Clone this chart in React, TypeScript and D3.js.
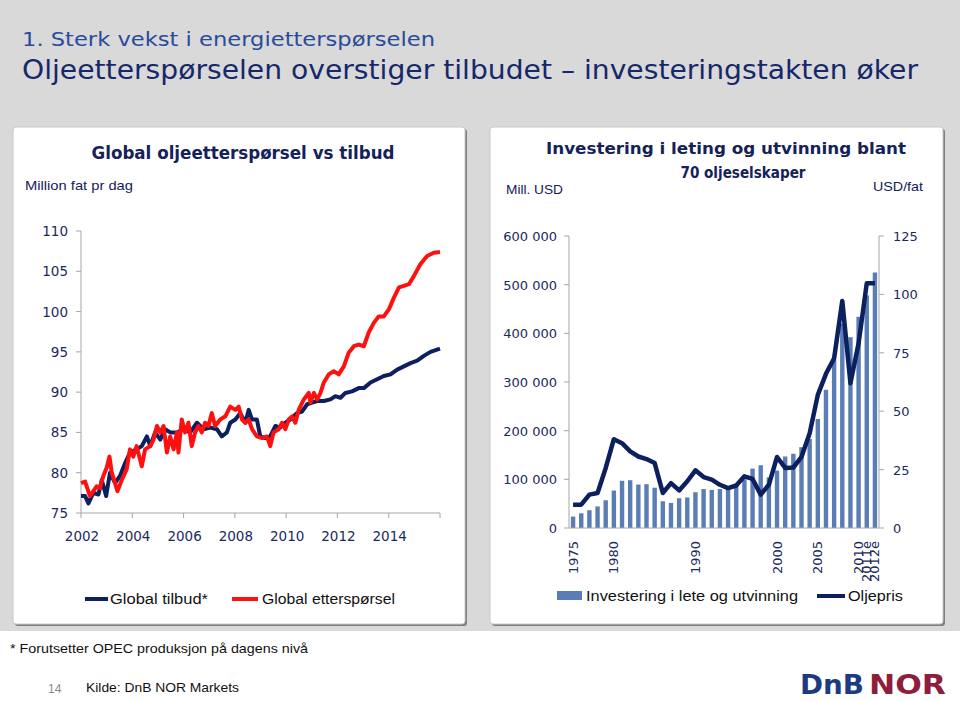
import React from 'react';
import * as d3 from 'd3';

// ---------- Left chart data (million barrels/day) ----------
const supplyYears = [2002.00, 2002.16, 2002.29, 2002.48, 2002.68, 2002.81, 2002.98, 2003.13, 2003.33, 2003.52, 2003.72, 2003.91, 2004.17, 2004.37, 2004.57, 2004.70, 2004.89, 2005.09, 2005.28, 2005.48, 2005.74, 2006.00, 2006.26, 2006.52, 2006.78, 2007.04, 2007.30, 2007.49, 2007.69, 2007.82, 2008.02, 2008.21, 2008.41, 2008.54, 2008.67, 2008.86, 2008.99, 2009.19, 2009.38, 2009.58, 2009.77, 2009.97, 2010.16, 2010.42, 2010.62, 2010.82, 2011.01, 2011.21, 2011.47, 2011.73, 2011.92, 2012.12, 2012.31, 2012.57, 2012.83, 2013.03, 2013.29, 2013.55, 2013.81, 2014.07, 2014.33, 2014.59, 2014.85, 2015.11, 2015.37, 2015.63, 2016.00];
const supplyValues = [77.1, 77.1, 76.2, 77.5, 77.3, 79.1, 77.1, 80.0, 78.7, 79.6, 81.2, 82.5, 82.9, 83.3, 84.5, 83.3, 85.0, 84.1, 85.4, 85.0, 85.0, 85.4, 85.0, 86.2, 85.4, 85.6, 85.4, 84.5, 85.0, 86.2, 86.6, 87.4, 86.2, 87.8, 86.6, 86.6, 84.5, 84.3, 84.5, 85.8, 85.6, 86.2, 86.6, 87.4, 87.6, 88.5, 88.7, 88.9, 88.9, 89.1, 89.5, 89.3, 89.9, 90.1, 90.5, 90.5, 91.2, 91.6, 92.0, 92.2, 92.8, 93.2, 93.6, 93.9, 94.5, 95.0, 95.4];
const demandYears = [2002.00, 2002.16, 2002.35, 2002.48, 2002.61, 2002.74, 2002.87, 2003.00, 2003.11, 2003.20, 2003.33, 2003.42, 2003.59, 2003.78, 2003.91, 2004.04, 2004.17, 2004.37, 2004.50, 2004.70, 2004.83, 2004.96, 2005.09, 2005.22, 2005.35, 2005.48, 2005.61, 2005.74, 2005.80, 2005.93, 2006.06, 2006.19, 2006.32, 2006.45, 2006.58, 2006.71, 2006.84, 2006.97, 2007.10, 2007.23, 2007.43, 2007.63, 2007.82, 2008.02, 2008.15, 2008.28, 2008.41, 2008.54, 2008.67, 2008.86, 2009.06, 2009.25, 2009.38, 2009.51, 2009.71, 2009.84, 2009.97, 2010.10, 2010.23, 2010.36, 2010.49, 2010.69, 2010.88, 2010.95, 2011.08, 2011.21, 2011.34, 2011.47, 2011.66, 2011.86, 2012.05, 2012.25, 2012.44, 2012.64, 2012.83, 2013.03, 2013.22, 2013.42, 2013.61, 2013.81, 2014.01, 2014.20, 2014.40, 2014.59, 2014.79, 2014.98, 2015.24, 2015.50, 2015.76, 2016.00];
const demandValues = [78.7, 78.9, 77.1, 77.7, 78.3, 78.1, 79.6, 80.6, 82.0, 80.0, 78.7, 77.7, 79.1, 80.4, 82.9, 82.0, 83.3, 80.8, 82.9, 83.3, 84.1, 85.8, 85.0, 85.8, 82.5, 84.5, 82.9, 85.0, 82.5, 86.6, 85.0, 86.2, 83.3, 85.0, 85.8, 85.0, 86.2, 85.8, 87.4, 85.8, 86.6, 87.0, 88.2, 87.8, 88.2, 86.6, 86.2, 86.6, 85.4, 84.5, 84.3, 84.5, 83.3, 85.0, 85.4, 86.2, 85.4, 86.6, 87.0, 86.2, 87.8, 89.1, 89.9, 88.7, 89.9, 89.1, 89.9, 91.2, 92.2, 92.6, 92.2, 93.2, 94.9, 95.7, 95.9, 95.7, 97.4, 98.6, 99.4, 99.4, 100.3, 101.7, 103.0, 103.2, 103.4, 104.4, 105.9, 106.9, 107.3, 107.4];
const leftYTicks = [75, 80, 85, 90, 95, 100, 105, 110];
const leftXTicks = [2002, 2004, 2006, 2008, 2010, 2012, 2014, 2016];
const leftXLabels = ['2002', '2004', '2006', '2008', '2010', '2012', '2014'];

// ---------- Right chart data ----------
const invYears = ['1975', '1976', '1977', '1978', '1979', '1980', '1981', '1982', '1983', '1984', '1985', '1986', '1987', '1988', '1989', '1990', '1991', '1992', '1993', '1994', '1995', '1996', '1997', '1998', '1999', '2000', '2001', '2002', '2003', '2004', '2005', '2006', '2007', '2008', '2009', '2010', '2011e', '2012e'];
const investment = [23400, 30200, 36500, 44300, 57000, 77000, 97000, 98200, 89300, 90000, 82800, 55000, 51500, 61200, 62800, 73500, 80000, 78300, 80000, 82000, 88000, 100000, 122000, 129000, 104000, 118000, 147000, 152500, 166000, 183000, 224000, 284000, 346000, 420000, 392000, 434000, 478000, 525000];
const oilPrice = [10, 10, 14.3, 15, 25.7, 38, 36.3, 32.8, 30.6, 29.5, 27.8, 15, 19.2, 16.1, 20, 24.7, 21.8, 20.7, 18.5, 17.1, 18.2, 22.1, 21, 14.3, 18.5, 30.4, 25.7, 25.9, 30.4, 40.6, 57, 66, 72.7, 97.2, 62, 79.1, 104.8, 104.8];
const invXLabels = ['1975', '1980', '1990', '2000', '2005', '2010', '2011e', '2012e'];
const invYTicks = [0, 100000, 200000, 300000, 400000, 500000, 600000];
const priceTicks = [0, 25, 50, 75, 100, 125];

const NAVY = '#0c1f5e';
const RED = '#ff1010';
const BAR = '#5b7db5';
const AXIS = '#a6a6a6';
const LABEL = '#1b2a5e';
const FONT = 'DejaVu Sans, Verdana, sans-serif';
const NARROW = 'Liberation Sans, Arial, sans-serif';

const fmtSpace = (v: number) => (v === 0 ? '0' : d3.format(',')(v).replace(/,/g, ' '));

function Panel({ x, y, w, h }: { x: number; y: number; w: number; h: number }) {
  return (
    <g>
      <rect x={x + 2} y={y + 2} width={w} height={h} rx={3} fill="#7f7f7f" />
      <rect x={x} y={y} width={w} height={h} rx={3} fill="#ffffff" stroke="#c8c8c8" strokeWidth={1} />
    </g>
  );
}

export default function App() {
  // Left chart scales
  const lx = d3.scaleLinear().domain([2002, 2016]).range([81, 440]);
  const ly = d3.scaleLinear().domain([75, 110]).range([513, 231]);
  const supplyLine = d3.line<number>().x((_, i) => lx(supplyYears[i])).y((d) => ly(d))(supplyValues) || '';
  const demandLine = d3.line<number>().x((_, i) => lx(demandYears[i])).y((d) => ly(d))(demandValues) || '';

  // Right chart scales
  const bx = d3.scaleBand<string>().domain(invYears).range([569, 879]).paddingInner(0.46).paddingOuter(0.23);
  const by = d3.scaleLinear().domain([0, 600000]).range([528, 236]);
  const py = d3.scaleLinear().domain([0, 125]).range([528, 236]);
  const bc = (k: string) => (bx(k) || 0) + bx.bandwidth() / 2;
  const priceLine = d3.line<number>().x((_, i) => bc(invYears[i])).y((d) => py(d))(oilPrice) || '';

  return (
    <div style={{ position: 'absolute', left: 0, top: 0 }}>
      <svg width={960} height={701} style={{ display: 'block' }}>
        <rect x={0} y={0} width={960} height={701} fill="#ffffff" />
        <rect x={0} y={0} width={960} height={631} fill="#d9d9d9" />

        {/* Titles */}
        <text x={22} y={46} fontFamily={FONT} fontSize={20} fill="#2a4b9b" textLength={413} lengthAdjust="spacingAndGlyphs">1. Sterk vekst i energietterspørselen</text>
        <text x={22} y={79} fontFamily={FONT} fontSize={26} fill="#16276a" textLength={896} lengthAdjust="spacingAndGlyphs">Oljeetterspørselen overstiger tilbudet – investeringstakten øker</text>

        <Panel x={13} y={127} w={452} h={497} />
        <Panel x={490} y={127} w={453} h={497} />

        {/* Left panel headings */}
        <text x={243} y={159} textAnchor="middle" fontFamily={FONT} fontWeight="bold" fontSize={17} fill="#14215a" textLength={303} lengthAdjust="spacingAndGlyphs">Global oljeetterspørsel vs tilbud</text>
        <text x={25} y={190} fontFamily={NARROW} fontSize={13} fill="#14215a" textLength={108} lengthAdjust="spacingAndGlyphs">Million fat pr dag</text>

        {/* Left chart axes */}
        <line x1={81} x2={81} y1={231} y2={513} stroke={AXIS} />
        <line x1={81} x2={440} y1={513} y2={513} stroke={AXIS} />
        {leftYTicks.map((t) => (
          <g key={'ly' + t}>
            <line x1={76} x2={81} y1={ly(t)} y2={ly(t)} stroke={AXIS} />
            <text x={68} y={ly(t) + 5} textAnchor="end" fontFamily={FONT} fontSize={13.5} fill={LABEL}>{t}</text>
          </g>
        ))}
        {leftXTicks.map((t) => (
          <line key={'lxt' + t} x1={lx(t)} x2={lx(t)} y1={513} y2={518} stroke={AXIS} />
        ))}
        {leftXLabels.map((t) => (
          <text key={'lxl' + t} x={lx(+t) + 1} y={541} textAnchor="middle" fontFamily={FONT} fontSize={13.5} fill={LABEL}>{t}</text>
        ))}
        <path d={supplyLine} fill="none" stroke={NAVY} strokeWidth={4} strokeLinejoin="round" />
        <path d={demandLine} fill="none" stroke={RED} strokeWidth={4} strokeLinejoin="round" />

        {/* Left legend */}
        <line x1={85} x2={108} y1={599} y2={599} stroke={NAVY} strokeWidth={4} />
        <text x={110} y={604} fontFamily={NARROW} fontSize={14} fill="#111" textLength={98} lengthAdjust="spacingAndGlyphs">Global tilbud*</text>
        <line x1={232} x2={258} y1={599} y2={599} stroke={RED} strokeWidth={4} />
        <text x={262} y={604} fontFamily={NARROW} fontSize={14} fill="#111" textLength={133} lengthAdjust="spacingAndGlyphs">Global etterspørsel</text>

        {/* Right panel headings */}
        <text x={726} y={154} textAnchor="middle" fontFamily={FONT} fontWeight="bold" fontSize={16.5} fill="#14215a" textLength={360} lengthAdjust="spacingAndGlyphs">Investering i leting og utvinning blant</text>
        <text x={743} y={178} textAnchor="middle" fontFamily={FONT} fontWeight="bold" fontSize={16.5} fill="#14215a" textLength={125} lengthAdjust="spacingAndGlyphs">70 oljeselskaper</text>
        <text x={506} y={194} fontFamily={NARROW} fontSize={13} fill="#14215a" textLength={57} lengthAdjust="spacingAndGlyphs">Mill. USD</text>
        <text x={923} y={191} textAnchor="end" fontFamily={NARROW} fontSize={13} fill="#14215a" textLength={50} lengthAdjust="spacingAndGlyphs">USD/fat</text>

        {/* Right chart bars */}
        {invYears.map((k, i) => (
          <rect key={'b' + k} x={bx(k)} y={by(investment[i])} width={bx.bandwidth()} height={528 - by(investment[i])} fill={BAR} />
        ))}
        {/* Right chart axes */}
        <line x1={569} x2={569} y1={236} y2={528} stroke={AXIS} />
        <line x1={879} x2={879} y1={236} y2={528} stroke={AXIS} />
        <line x1={569} x2={879} y1={528} y2={528} stroke={AXIS} />
        {invYTicks.map((t) => (
          <g key={'iy' + t}>
            <line x1={564} x2={569} y1={by(t)} y2={by(t)} stroke={AXIS} />
            <text x={557} y={by(t) + 5} textAnchor="end" fontFamily={FONT} fontSize={13} fill={LABEL}>{fmtSpace(t)}</text>
          </g>
        ))}
        {priceTicks.map((t) => (
          <g key={'py' + t}>
            <line x1={879} x2={884} y1={py(t)} y2={py(t)} stroke={AXIS} />
            <text x={893} y={py(t) + 5} textAnchor="start" fontFamily={FONT} fontSize={13} fill={LABEL}>{t}</text>
          </g>
        ))}
        {invXLabels.map((k) => (
          <text key={'ix' + k} transform={`translate(${bc(k) + 4.5},541) rotate(-90)`} textAnchor="end" fontFamily={FONT} fontSize={13} fill={LABEL}>{k}</text>
        ))}
        <path d={priceLine} fill="none" stroke={NAVY} strokeWidth={4.5} strokeLinejoin="round" />

        {/* Right legend */}
        <rect x={557} y={591} width={25} height={9} fill={BAR} />
        <text x={586} y={601} fontFamily={NARROW} fontSize={14} fill="#111" textLength={212} lengthAdjust="spacingAndGlyphs">Investering i lete og utvinning</text>
        <line x1={817} x2={845} y1={596} y2={596} stroke={NAVY} strokeWidth={4} />
        <text x={848} y={601} fontFamily={NARROW} fontSize={14} fill="#111" textLength={55} lengthAdjust="spacingAndGlyphs">Oljepris</text>

        {/* Footer */}
        <text x={10} y={653} fontFamily={NARROW} fontSize={13} fill="#111" textLength={298} lengthAdjust="spacingAndGlyphs">* Forutsetter OPEC produksjon på dagens nivå</text>
        <text x={48} y={693} fontFamily={NARROW} fontSize={12} fill="#8a8a8a">14</text>
        <text x={86} y={692} fontFamily={NARROW} fontSize={13} fill="#111" textLength={153} lengthAdjust="spacingAndGlyphs">Kilde: DnB NOR Markets</text>
        <text x={800} y={694} fontFamily={FONT} fontWeight="bold" fontSize={26} fill="#1d3b80" textLength={64} lengthAdjust="spacingAndGlyphs">DnB</text>
        <text x={869} y={694} fontFamily={FONT} fontWeight="bold" fontSize={26} fill="#8e1d3e" textLength={77} lengthAdjust="spacingAndGlyphs">NOR</text>
      </svg>
    </div>
  );
}
